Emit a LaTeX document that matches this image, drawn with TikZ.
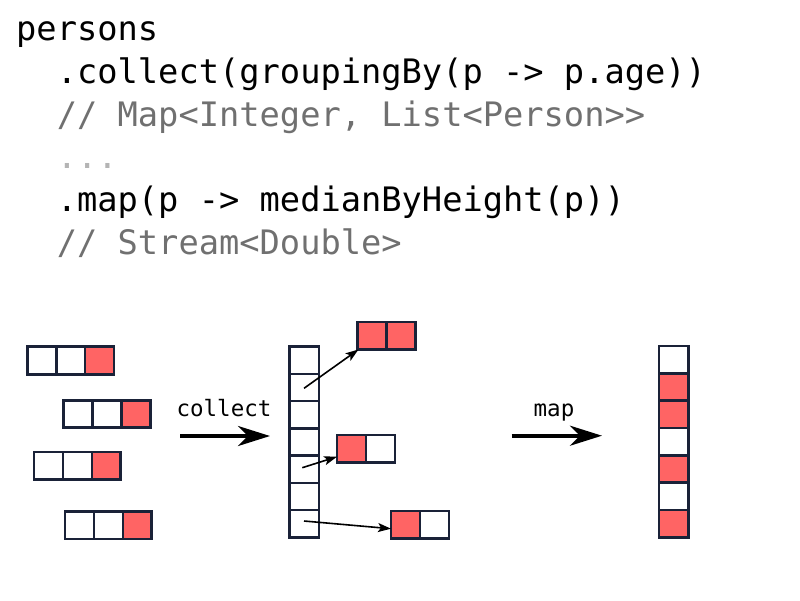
\documentclass[tikz,border=0pt]{standalone}
\usepackage{fontspec}
\setmonofont{DejaVu Sans Mono}
\usetikzlibrary{arrows.meta}
\definecolor{boxline}{HTML}{1A2238}
\definecolor{cellred}{HTML}{FF6464}
\definecolor{cmtgray}{HTML}{707070}
\definecolor{dotgray}{HTML}{B4B4B4}
\tikzset{
  code/.style={anchor=base west,inner sep=0pt,font=\ttfamily\fontsize{33.7}{40}\selectfont},
  lbl/.style={anchor=base,inner sep=0pt,font=\ttfamily\fontsize{22.5}{26}\selectfont},
  cell/.style={draw=boxline,line width=2.6pt,fill=white},
  rcell/.style={cell,fill=cellred},
  thin/.style={-{Stealth[length=13pt,width=9pt,inset=3pt]},line width=1.6pt},
  thick/.style={-{Stealth[length=32pt,width=20pt,inset=10pt]},line width=4pt}
}
\begin{document}
\begin{tikzpicture}[x=1pt,y=-1pt]
\useasboundingbox (0,0) rectangle (800,600);
% code
\node[code] (l1) at (16,40.5) {persons};
\node[code] (l2) at (56.6,83.2) {.collect(groupingBy(p -> p.age))};
\node[code,text=cmtgray] (l3) at (56.6,126) {// Map<Integer, List<Person>>};
\node[code,text=dotgray] (l4) at (56.6,168.7) {...};
\node[code] (l5) at (56.6,211.4) {.map(p -> medianByHeight(p))};
\node[code,text=cmtgray] (l6) at (56.6,254) {// Stream<Double>};
% left groups
\def\cw{28.9}
\def\ch{27.5}
\foreach \gx/\gy/\n in {27.3/346.7/a,63.7/400.2/b,34/451.8/c,65/511.4/d}{
  \draw[cell] (\gx,\gy) rectangle ++(\cw,\ch);
  \draw[cell] (\gx+\cw,\gy) rectangle ++(\cw,\ch);
  \draw[rcell] (\gx+2*\cw,\gy) rectangle ++(\cw,\ch);
}
% middle column
\def\colh{27.23}
\foreach \i in {0,...,6}{
  \draw[cell] (289.3,346.7+\i*\colh) rectangle ++(29.7,\colh);
}
\coordinate (c2) at (304,388.3);
\coordinate (c5) at (302.3,467.7);
\coordinate (c7) at (304,521);
% pairs
\draw[rcell] (357.7,322) rectangle ++(28.8,27.7);
\draw[rcell] (386.5,322) rectangle ++(28.8,27.7);
\coordinate (p1) at (358.5,349.5);
\draw[rcell] (337,435) rectangle ++(29,27.7);
\draw[cell] (366,435) rectangle ++(29,27.7);
\coordinate (p2) at (337,456.7);
\draw[rcell] (391,511) rectangle ++(29,27.7);
\draw[cell] (420,511) rectangle ++(29,27.7);
\coordinate (p3) at (391,528.7);
\draw[thin] (c2) -- (p1);
\draw[thin] (c5) -- (p2);
\draw[thin] (c7) -- (p3);
% right column
\foreach \i/\s in {0/cell,1/rcell,2/rcell,3/cell,4/rcell,5/cell,6/rcell}{
  \draw[\s] (659,346+\i*27.33) rectangle ++(29.3,27.33);
}
% big arrows
\coordinate (a1s) at (180,436);
\coordinate (a1e) at (270,436);
\draw[thick] (a1s) -- (a1e);
\node[lbl] (collect) at (224,416.7) {collect};
\coordinate (a2s) at (511.7,435.7);
\coordinate (a2e) at (602,435.7);
\draw[thick] (a2s) -- (a2e);
\node[lbl] (map) at (554,416.5) {map};
\end{tikzpicture}
\end{document}
